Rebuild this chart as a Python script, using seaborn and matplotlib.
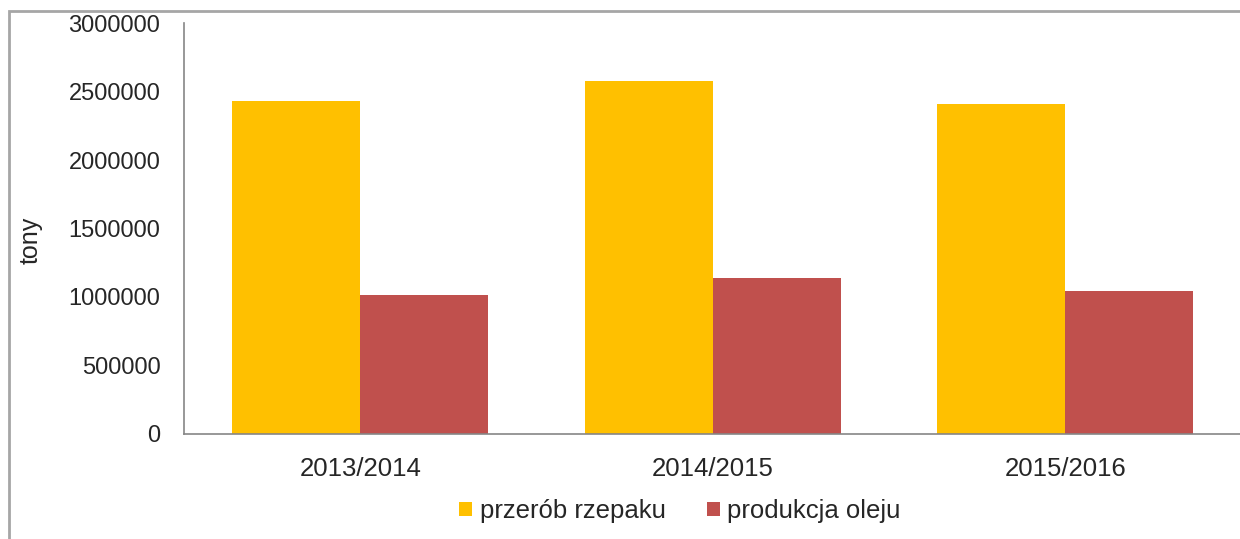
import matplotlib.pyplot as plt
import pandas as pd
import seaborn as sns
from matplotlib.patches import Rectangle

# data
sezony = ['2013/2014', '2014/2015', '2015/2016']
przerob = [2430000, 2578000, 2412000]
olej = [1016000, 1136000, 1041000]
serie = ['przerób rzepaku', 'produkcja oleju']
kolory = ['#FFC000', '#C0504D']
yticks = [0, 500000, 1000000, 1500000, 2000000, 2500000, 3000000]

df = pd.DataFrame({
    'sezon': sezony * 2,
    'seria': [serie[0]] * 3 + [serie[1]] * 3,
    'tony': przerob + olej,
})

sns.set_style('white')
plt.rcParams['font.family'] = ['Liberation Sans', 'DejaVu Sans']

fig = plt.figure(figsize=(12.4, 5.39), dpi=100)
ax = fig.add_axes([184 / 1240, 1 - 433.7 / 539, 1057.5 / 1240, 410.4 / 539])

sns.barplot(data=df, x='sezon', y='tony', hue='seria', palette=kolory,
            width=0.726, saturation=1, ax=ax, linewidth=0, legend=False)

ax.set(xlim=(-0.5, 2.5), ylim=(0, 3000000), xlabel='', ylabel='')
ax.set_yticks(yticks)
ax.set_yticklabels([str(v) for v in yticks])
ax.tick_params(axis='y', length=0, pad=17, labelsize=17)
ax.tick_params(axis='x', length=0, pad=17, labelsize=18.5)
for s in ['top', 'right']:
    ax.spines[s].set_visible(False)
for s in ['left', 'bottom']:
    ax.spines[s].set_color('#868686')
    ax.spines[s].set_linewidth(1.2)
    ax.spines[s].set_clip_on(False)

fig.text(31 / 1240, 1 - 240 / 539, 'tony', rotation=90, ha='center',
         va='center', fontsize=18)

uchwyty = [Rectangle((0, 0), 1, 1, facecolor=c, edgecolor='none')
           for c in kolory]
fig.legend(uchwyty, serie, loc='center', ncol=2, frameon=False,
           bbox_to_anchor=(680 / 1240, 1 - 511 / 539), fontsize=18.5,
           handlelength=0.5, handleheight=0.5, handletextpad=0.3,
           columnspacing=1.6, borderaxespad=0)

# ramka wykresu
fig.patches.append(Rectangle((9 / 1240, -0.05), 1.1, 1.05 - 11 / 539,
                             transform=fig.transFigure, fill=False,
                             edgecolor='#A6A6A6', linewidth=2,
                             clip_on=False))

fig.savefig('out.png', dpi=100)
